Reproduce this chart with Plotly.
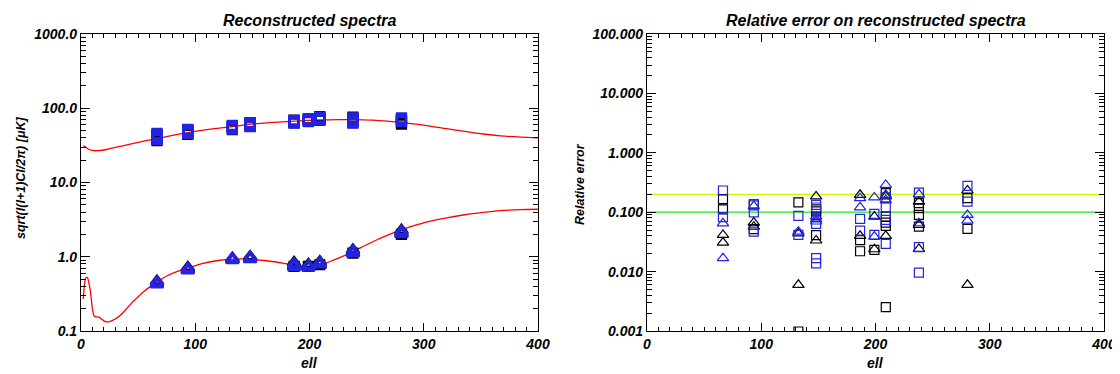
import plotly.graph_objects as go

# ---------------- data ----------------
ells = [66.5, 93.5, 132.5, 148, 186.5, 199, 209, 238, 280.5]

# theoretical spectra
upper_curve_ell = [2, 4, 7, 10, 14, 20, 25, 35, 45, 55, 66, 80, 93, 110, 132, 147, 165, 187, 198,
                   209, 225, 238, 255, 280, 304, 320, 336, 352, 367, 385, 400]
upper_curve_val = [31.5, 30.0, 27.8, 27.0, 26.8, 27.4, 28.5, 30.8, 33.5, 36.0, 38.8, 43.0, 47.0, 51.5,
                   56.5, 60.5, 64.0, 67.0, 68.8, 69.5, 70.2, 70.2, 69.0, 64.5, 58.0, 53.0, 48.7, 45.0,
                   42.5, 40.8, 40.0]
lower_curve_ell = [2, 3, 4, 5, 6, 7, 8, 9, 10, 11, 12, 14, 16, 18, 20, 22, 25, 30, 35, 40, 45, 50, 55,
                   60, 66, 75, 85, 93, 105, 120, 132, 147, 160, 171, 180, 187, 198, 209, 221, 232, 238,
                   250, 260, 270, 280, 295, 304, 320, 336, 352, 367, 385, 400]
lower_curve_val = [0.27, 0.42, 0.51, 0.53, 0.51, 0.44, 0.36, 0.27, 0.20, 0.165, 0.157, 0.155, 0.153,
                   0.145, 0.137, 0.133, 0.134, 0.145, 0.165, 0.20, 0.245, 0.29, 0.34, 0.39, 0.45, 0.55,
                   0.64, 0.70, 0.80, 0.89, 0.93, 0.93, 0.89, 0.85, 0.80, 0.77, 0.75, 0.77, 0.90, 1.06,
                   1.17, 1.45, 1.72, 2.0, 2.3, 2.72, 2.98, 3.35, 3.68, 3.95, 4.17, 4.32, 4.36]

# reconstructed spectra, several realisations per ell
upper_black = [[36.5, 39, 42, 44], [44.5, 46.5, 49, 51], [51.5, 54, 56.5, 58], [57, 59.5, 62, 64],
               [63.5, 65.5, 67.5, 69], [66.5, 68.5, 70.5, 72], [68.5, 71, 74, 77], [64, 68, 72, 76],
               [61, 64, 67, 70]]
upper_blue = [[38, 40.5, 43, 46], [45.5, 47.5, 50, 52], [52.5, 55, 57, 59], [56.5, 59, 61.5, 64],
              [63, 65, 67, 68.5], [66, 68, 70, 71.5], [69, 71, 73, 76], [63, 66.5, 70, 74],
              [66, 69, 71.5, 74]]
lower_black_sq = [[], [], [], [], [0.74], [0.74], [0.78], [1.12], [2.0]]
lower_black = [[0.43, 0.45, 0.47], [0.66, 0.69, 0.72], [0.90, 0.93, 0.96], [0.93, 0.97, 1.01],
               [0.74, 0.79, 0.84], [0.72, 0.76, 0.79], [0.77, 0.82, 0.86], [1.12, 1.18, 1.24],
               [2.02, 2.15, 2.28]]
lower_blue = [[0.42, 0.44, 0.46], [0.65, 0.68, 0.70], [0.89, 0.92, 0.95], [0.92, 0.95, 0.99],
              [0.72, 0.77, 0.81], [0.71, 0.74, 0.77], [0.78, 0.81, 0.84], [1.10, 1.15, 1.22],
              [2.0, 2.1, 2.22]]

# relative errors
err_sq_black = [[0.166, 0.112], [0.136, 0.0518], [0.146, 0.00098], [0.112, 0.103, 0.0845, 0.041],
                [0.034, 0.022], [0.0232], [0.209, 0.0845, 0.0669, 0.0589, 0.00252],
                [0.142, 0.117, 0.0902, 0.0573], [0.172, 0.0523]]
err_sq_blue = [[0.232, 0.0824], [0.13, 0.099, 0.047], [0.0867, 0.0415],
               [0.133, 0.12, 0.0636, 0.0168, 0.0138], [0.077, 0.049], [0.094, 0.0415],
               [0.177, 0.121, 0.0743, 0.0293], [0.214, 0.0258, 0.0096], [0.277, 0.151]]
err_tri_black = [[0.0415, 0.0308], [0.067, 0.057], [0.044, 0.006], [0.184, 0.0334],
                 [0.196, 0.040], [0.0845, 0.0238], [0.184, 0.040], [0.151, 0.061, 0.0241],
                 [0.232, 0.006]]
err_tri_blue = [[0.065, 0.0168], [0.127], [0.047], [0.076, 0.0697, 0.085], [0.172, 0.121],
                [0.177, 0.0389], [0.288, 0.196, 0.16], [0.2, 0.0652], [0.0902, 0.0724]]

ref_levels = [0.2, 0.1]
ref_colors = ["#ccf500", "#22e622"]

left_yticks = [0.1, 1, 10, 100, 1000]
left_yticktext = ["0.1", "1.0", "10.0", "100.0", "1000.0"]
right_yticks = [0.001, 0.01, 0.1, 1, 10, 100]
right_yticktext = ["0.001", "0.010", "0.100", "1.000", "10.000", "100.000"]
xticks = [0, 100, 200, 300, 400]

BLACK = "#000000"
BLUE = "#2323e6"
RED = "#ff0000"

# page has an 8px body margin: draw a 1112x366 figure and shift coordinates
OFF = 8
W, H = 1120 - OFF, 374 - OFF


def px(x):
    return (x - OFF) / W


def py(y):
    return 1 - (y - OFF) / H


def flat(groups):
    xs, ys = [], []
    for e, vals in zip(ells, groups):
        for v in vals:
            xs.append(e)
            ys.append(v)
    return xs, ys


fig = go.Figure()

# left panel curves
fig.add_trace(go.Scatter(x=upper_curve_ell, y=upper_curve_val, mode="lines", line=dict(color=RED, width=1.3, shape="spline", smoothing=0.6), xaxis="x", yaxis="y", showlegend=False))
fig.add_trace(go.Scatter(x=lower_curve_ell, y=lower_curve_val, mode="lines", line=dict(color=RED, width=1.3, shape="spline", smoothing=0.6), xaxis="x", yaxis="y", showlegend=False))

for groups, sym, col, size in [
    (upper_black, "square-open", BLACK, 9),
    (upper_blue, "square-open", BLUE, 9),
    (lower_black_sq, "square-open", BLACK, 9),
    (lower_black, "triangle-up-open", BLACK, 11),
    (lower_blue, "triangle-up-open", BLUE, 11),
]:
    xs, ys = flat(groups)
    fig.add_trace(go.Scatter(x=xs, y=ys, mode="markers",
                             marker=dict(symbol=sym, size=size, color=col, line=dict(width=2.2, color=col)),
                             xaxis="x", yaxis="y", showlegend=False))

# right panel
for lvl, c in zip(ref_levels, ref_colors):
    fig.add_trace(go.Scatter(x=[0, 400], y=[lvl, lvl], mode="lines", line=dict(color=c, width=1.3),
                             xaxis="x2", yaxis="y2", showlegend=False))

for groups, sym, col in [
    (err_sq_black, "square-open", BLACK),
    (err_tri_black, "triangle-up-open", BLACK),
    (err_sq_blue, "square-open", BLUE),
    (err_tri_blue, "triangle-up-open", BLUE),
]:
    xs, ys = flat(groups)
    fig.add_trace(go.Scatter(x=xs, y=ys, mode="markers",
                             marker=dict(symbol=sym, size=9 if "square" in sym else 10, color=col,
                                         line=dict(width=1.2, color=col)),
                             xaxis="x2", yaxis="y2", showlegend=False))

tickfont = dict(family="Liberation Sans", size=14, color="black", weight="bold", style="italic")

minor_left = [k * 10 ** e for e in range(-1, 3) for k in range(2, 10)]
minor_right = [k * 10 ** e for e in range(-3, 2) for k in range(2, 10)]

xcommon = dict(range=[0, 400], tickmode="array", tickvals=xticks, ticks="inside", ticklen=8,
               tickwidth=1, tickcolor="black", showline=True, linecolor="black", linewidth=1.2,
               mirror="allticks", showgrid=False, zeroline=False, tickfont=tickfont, automargin=False,
               minor=dict(ticks="inside", ticklen=4, dtick=10, tick0=0, tickcolor="black", showgrid=False))

ycommon = dict(type="log", tickmode="array", ticks="inside", ticklen=9, tickwidth=1, tickcolor="black",
               showline=True, linecolor="black", linewidth=1.2, mirror="allticks", showgrid=False,
               zeroline=False, tickfont=tickfont, automargin=False)

dom_y = [py(331), py(34)]
fig.update_layout(
    width=W, height=H,
    margin=dict(l=0, r=0, t=0, b=0, autoexpand=False),
    paper_bgcolor="white", plot_bgcolor="white",
    xaxis=dict(domain=[px(81), px(538)], anchor="y", **xcommon),
    yaxis=dict(domain=dom_y, anchor="x", range=[-1, 3], tickvals=left_yticks, ticktext=left_yticktext,
               minor=dict(ticks="inside", ticklen=4.5, tickmode="array", tickvals=minor_left, tickcolor="black", showgrid=False),
               **ycommon),
    xaxis2=dict(domain=[px(647), px(1104)], anchor="y2", **xcommon),
    yaxis2=dict(domain=dom_y, anchor="x2", range=[-3, 2], tickvals=right_yticks, ticktext=right_yticktext,
                minor=dict(ticks="inside", ticklen=4.5, tickmode="array", tickvals=minor_right, tickcolor="black", showgrid=False),
                **ycommon),
    showlegend=False,
)

titlefont = dict(family="Liberation Sans", size=16, color="black", weight="bold", style="italic")
labfont = dict(family="Liberation Sans", size=14, color="black", weight="bold", style="italic")
yfont = dict(family="Liberation Sans", size=12.5, color="black", weight="bold", style="italic")

ann = [
    dict(text="Reconstructed spectra", xref="x domain", yref="paper", x=0.5, y=py(20), font=titlefont),
    dict(text="Relative error on reconstructed spectra", xref="x2 domain", yref="paper", x=0.5, y=py(20), font=titlefont),
    dict(text="ell", xref="x domain", yref="paper", x=0.5, y=py(363), font=labfont),
    dict(text="ell", xref="x2 domain", yref="paper", x=0.5, y=py(363), font=labfont),
    dict(text="sqrt(l(l+1)Cl/2π) [μK]", xref="paper", yref="paper", x=px(21), y=py(178), textangle=-90, font=yfont),
    dict(text="Relative error", xref="paper", yref="paper", x=px(580), y=py(184), textangle=-90, font=yfont),
]
for a in ann:
    a.update(showarrow=False, xanchor="center", yanchor="middle")
fig.update_layout(annotations=ann)

fig.write_html("out.html")
